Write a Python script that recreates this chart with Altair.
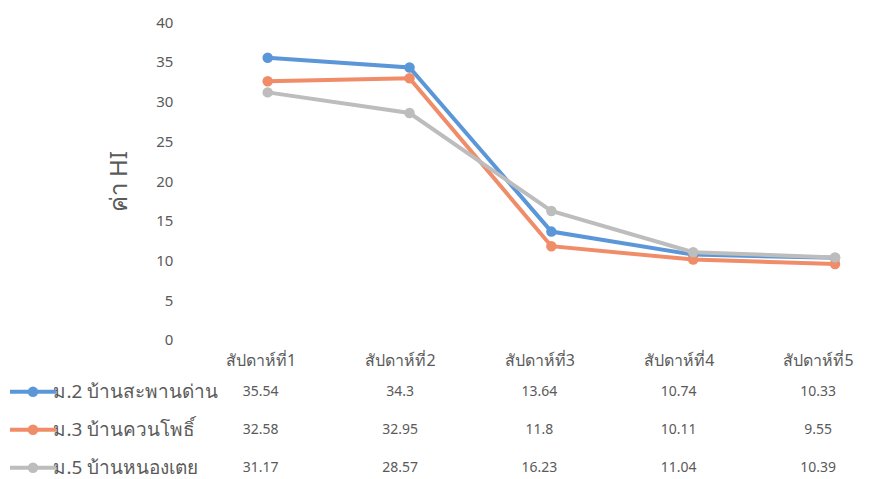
import altair as alt
import pandas as pd

weeks = ["สัปดาห์ที่1", "สัปดาห์ที่2", "สัปดาห์ที่3", "สัปดาห์ที่4", "สัปดาห์ที่5"]
series = ["ม.2 บ้านสะพานด่าน", "ม.3 บ้านควนโพธิ์", "ม.5 บ้านหนองเตย"]
v_m2 = [35.54, 34.3, 13.64, 10.74, 10.33]
v_m3 = [32.58, 32.95, 11.8, 10.11, 9.55]
v_m5 = [31.17, 28.57, 16.23, 11.04, 10.39]
colors = ["#5b97d8", "#f08c68", "#bdbdbd"]

rows = []
for s, vals in zip(series, [v_m2, v_m3, v_m5]):
    for w, v in zip(weeks, vals):
        rows.append({"week": w, "series": s, "value": v})
df = pd.DataFrame(rows)
leg = pd.DataFrame({"series": series})

FONT = "Tahoma, Noto Sans, DejaVu Sans, sans-serif"
TXT = "#5a5a5a"
W = 665

cscale = alt.Scale(domain=series, range=colors)

top = alt.Chart(df).mark_line(
    strokeWidth=4,
    point=alt.OverlayMarkDef(filled=True, size=110, opacity=1),
).encode(
    x=alt.X("week:N", sort=weeks,
            scale=alt.Scale(domain=weeks, type="point", padding=0.3415, align=0.732),
            axis=None),
    y=alt.Y("value:Q", scale=alt.Scale(domain=[0, 40]),
            axis=alt.Axis(title="ค่า HI", values=[0, 5, 10, 15, 20, 25, 30, 35, 40],
                          domain=False, ticks=False, grid=False,
                          labelPadding=24, labelFontSize=15, labelColor=TXT,
                          labelFont=FONT, titleFontSize=24, titleFontWeight="normal",
                          titleColor=TXT, titleFont=FONT, titlePadding=24)),
    color=alt.Color("series:N", scale=cscale, legend=None),
).properties(width=W, height=318)

yscale = alt.Scale(domain=series, paddingInner=0, paddingOuter=0)
tscale = alt.Scale(domain=weeks, type="point", padding=0.3835, align=0.598)

txt = alt.Chart(df).mark_text(fontSize=14, font=FONT, color=TXT).encode(
    x=alt.X("week:N", scale=tscale, sort=weeks,
            axis=alt.Axis(orient="top", title=None, domain=False, ticks=False,
                          labelAngle=0, labelPadding=4, labelFontSize=16,
                          labelColor=TXT, labelFont=FONT)),
    y=alt.Y("series:N", scale=yscale, sort=series,
            axis=alt.Axis(title=None, domain=False, ticks=False, labelAlign="left",
                          labelPadding=144, labelFontSize=19, labelColor=TXT,
                          labelFont=FONT)),
    text=alt.Text("value:Q"),
)
leg_line = alt.Chart(leg).mark_rule(strokeWidth=4).encode(
    x=alt.value(-187), x2=alt.value(-141),
    y=alt.Y("series:N", scale=yscale, sort=series),
    color=alt.Color("series:N", scale=cscale, legend=None),
)
leg_pt = alt.Chart(leg).mark_point(filled=True, size=110, opacity=1).encode(
    x=alt.value(-164),
    y=alt.Y("series:N", scale=yscale, sort=series),
    color=alt.Color("series:N", scale=cscale, legend=None),
)
table = alt.layer(txt, leg_line, leg_pt).properties(width=W, height=114)

chart = alt.vconcat(top, table, spacing=5).resolve_scale(x="independent").properties(
    padding={"left": 0, "top": 7, "right": 0, "bottom": 0},
    background="white",
).configure_view(stroke=None)

chart.save("out.html", embed_options={"renderer": "svg", "actions": False})
